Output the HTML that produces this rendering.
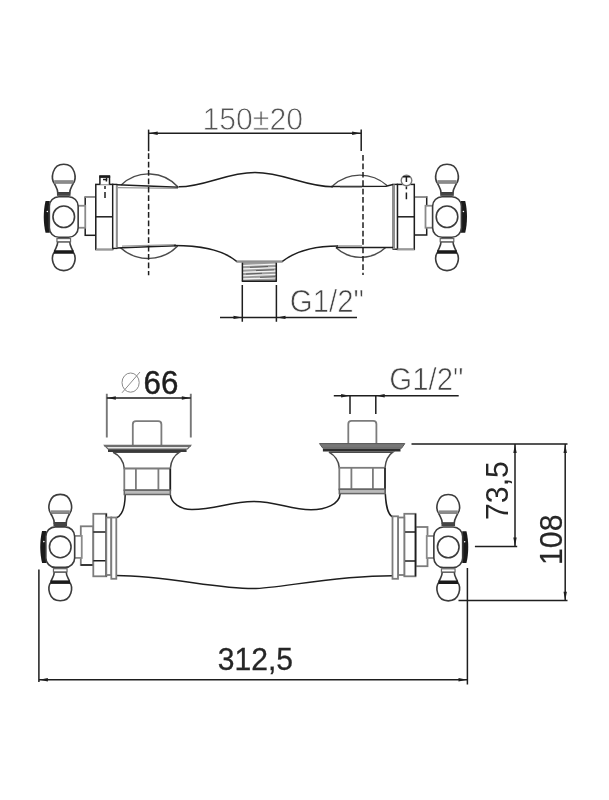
<!DOCTYPE html>
<html>
<head>
<meta charset="utf-8">
<title>Technical drawing</title>
<style>
html,body{margin:0;padding:0;background:#fff;}
body{width:609px;height:800px;overflow:hidden;font-family:"Liberation Sans",sans-serif;}
svg{display:block;filter:blur(0.35px);}
text{font-family:"Liberation Sans",sans-serif;}
.d{stroke:#1e1e1e;stroke-width:1.5;fill:none;}
.g{stroke:#7c7c7c;stroke-width:1.8;fill:none;}
.m{stroke:#3c3c3c;stroke-width:1.6;fill:none;}
.a{stroke:#4a4a4a;stroke-width:1.4;fill:none;}
.w{fill:#fff;}
.k{fill:#1a1a1a;stroke:none;}
</style>
</head>
<body>
<svg width="609" height="800" viewBox="0 0 609 800">
<defs>
  <!-- handle, centre at 0,0 ; cap on -x side, stem on +x side -->
  <g id="handle">
    <!-- top knob -->
    <path class="m w" d="M-9.2 -33 C-13.2 -38 -11.9 -52.5 0 -52.5 C11.9 -52.5 13.2 -38 9.2 -33 Z"/>
    <rect x="-9.6" y="-36.6" width="19.2" height="3.6" fill="#8a8a8a"/>
    <path class="m w" d="M-9.2 -33 C-8 -30 -6 -28 -6 -24 L6 -24 C6 -28 8 -30 9.2 -33"/>
    <rect x="-6.8" y="-24.3" width="13.6" height="3.4" fill="#444"/>
    <!-- bottom knob -->
    <path class="m w" d="M-9.2 35 C-13.2 40 -11.9 53.9 0 53.9 C11.9 53.9 13.2 40 9.2 35 Z"/>
    <path class="m w" d="M-9.2 34.5 C-8 31 -6 29 -6 25 L6 25 C6 29 8 31 9.2 34.5"/>
    <rect class="k" x="-9.8" y="33.5" width="19.6" height="3.5"/>
    <rect x="-6.8" y="21.8" width="13.6" height="3.2" fill="#fff" stroke="#666" stroke-width="1.2"/>
    <!-- stem -->
    <rect x="14" y="-11" width="7.5" height="22" fill="#fff" stroke="#8a8a8a" stroke-width="1.8"/>
    <!-- cap -->
    <path class="k" d="M-14 -15.8 L-18.2 -15.8 C-20.6 -6 -20.6 6 -18.2 16 L-14 16 Z"/>
    <circle cx="-16.4" cy="-5.3" r="0.8" fill="#fff"/>
    <!-- hub -->
    <rect class="m w" x="-14.4" y="-20" width="28.8" height="40.5" rx="9.5" ry="9.5"/>
    <circle class="m" cx="0" cy="0" r="10.8"/>
  </g>
  <path id="ah" d="M0 0 L8.5 -1.7 L8.5 1.7 Z" fill="#1e1e1e"/>
</defs>

<!-- ================= TOP VIEW ================= -->
<g id="topview">
  <!-- wall flange arcs -->
  <path class="a" d="M121.2 185 A39.6 39.6 0 0 1 178.3 187.2"/>
  <path class="a" d="M120.5 247.8 A41.3 41.3 0 0 0 177.7 246"/>
  <path class="a" d="M332.5 186 A40.2 40.2 0 0 1 387 185.6"/>
  <path class="a" d="M335.8 247.6 A36.8 36.8 0 0 0 385.7 247.6"/>
  <!-- body flat parts -->
  <path class="d" stroke-width="1.2" d="M117 184.8 L178.5 187.3 M117 248 L148 246.7 L176 245.7 M331 186.4 L386 186.3 L393 184.6 M336 247.5 H393"/>
  <path stroke="#9a9a9a" stroke-width="1.3" fill="none" d="M118 187.6 L178 188.4 M122 246.2 L176 244.6 M340 187.4 H362 M337 246 H362"/>
  <!-- body curves -->
  <path class="d" d="M179 186.8 C205 186.8 226 172.5 255 172.5 C284 172.5 305 186.8 333 186.8"/>
  <path class="d" d="M174 245.6 C207 245.6 225 251.5 237 261.6 L282 261.6 C297 250 315 246 338 246"/>
  <!-- thread -->
  <g>
    <rect x="242" y="262" width="34.6" height="19.6" fill="#9c9c9c"/>
    <path stroke="#f4f4f4" stroke-width="1.3" fill="none" d="M242 265.6 L276.6 264.2 M242 269 L276.6 267.6 M242 272.4 L276.6 271 M242 275.8 L276.6 274.4 M242 279 L276.6 277.8"/>
    <path stroke="#444" stroke-width="0.7" fill="none" d="M250 267.3 L268 266.5 M246 274 L262 273.3 M256 270.6 L274 269.8 M260 277.4 L275 276.8"/>
    <path class="d" d="M242.4 262.5 V281.3 M276.3 262.5 V281.3"/>
    <path class="d" stroke-width="2" d="M241.8 281.2 H276.9"/>
    <path stroke="#909090" stroke-width="1.8" fill="none" d="M236.5 261.6 H282.5"/>
  </g>
  <!-- left fittings -->
  <rect class="d w" x="85.2" y="197.1" width="10.6" height="38.2"/>
  <path stroke="#999" stroke-width="1.7" fill="none" d="M85.2 197.1 H95.8"/>
  <rect class="d w" x="95.8" y="184.4" width="16.9" height="65.1"/>
  <path class="d" d="M95.8 216.8 H112.7"/>
  <rect x="112.7" y="184.4" width="4" height="64" fill="#fff" stroke="#1e1e1e" stroke-width="1.4"/>
  <path stroke="#8f8f8f" stroke-width="1.6" fill="none" d="M116.6 185.2 V248"/>
  <path stroke="#999" stroke-width="1.6" fill="none" d="M95.8 249.5 H112.7"/>
  <path d="M99.9 184.6 V177 H109.5 V184.6" fill="#fff" stroke="#1e1e1e" stroke-width="1.5"/>
  <rect class="k" x="99.2" y="175.2" width="11" height="2.4"/>
  <path class="d" d="M103 179.4 H106.6 V177.6 M106.4 179 V181.5" stroke-width="1" stroke="#444"/>
  <path class="d" d="M105 186 V189 M105 192 V198" stroke-width="1.5"/>
  <use href="#handle" transform="translate(63.75 216.75)"/>
  <!-- right fittings -->
  <rect class="d w" x="414.3" y="196.9" width="12.4" height="38.1"/>
  <path stroke="#999" stroke-width="1.7" fill="none" d="M414.3 196.9 H426.7"/>
  <rect class="d w" x="397.4" y="184.4" width="16.9" height="65"/>
  <path class="d" d="M397.4 216.8 H414.3"/>
  <rect x="393.2" y="184.4" width="4.2" height="64.8" fill="#fff" stroke="#1e1e1e" stroke-width="1.4"/>
  <path stroke="#8f8f8f" stroke-width="2" fill="none" d="M394 184.4 V249.2"/>
  <path stroke="#999" stroke-width="1.6" fill="none" d="M397.4 249.4 H414.3"/>
  <circle cx="406.5" cy="180.5" r="5.3" fill="#fff" stroke="#777" stroke-width="1.4"/>
  <path class="d" d="M403 176.8 H410 M406.4 176.8 V182" stroke-width="1.5"/>
  <path class="d" d="M406.4 186.4 V189.3 M406.4 192.6 V199.3" stroke-width="1.5"/>
  <use href="#handle" transform="translate(447 216.75) scale(-1 1)"/>

  <!-- centre lines -->
  <path class="d" d="M148.6 129.6 V151.2" stroke-width="1.5"/>
  <path class="d" d="M148.6 153.3 V275.2" stroke-dasharray="5.7 2.7" stroke-width="1.7"/>
  <path class="d" d="M361.2 129.5 V151" stroke-width="1.5"/>
  <path class="d" d="M363 155.1 V275" stroke-dasharray="5.7 2.7" stroke-width="1.7"/>
  <!-- 150±20 dimension -->
  <path class="d" d="M148.6 133.2 H361.2"/>
  <use href="#ah" transform="translate(149.2 133.2)"/>
  <use href="#ah" transform="translate(360.6 133.2) scale(-1 1)"/>
  <text transform="translate(202.4 129.8) scale(0.945 1)" font-size="32" fill="#555" stroke="#fff" stroke-width="0.8">150±20</text>
  <!-- G1/2 dimension -->
  <path class="d" d="M242.3 285 V321.8 M276.4 285 V321.8 M220 317.6 H357"/>
  <use href="#ah" transform="translate(242 317.4) scale(-1 1)"/>
  <use href="#ah" transform="translate(277 317.4)"/>
  <text transform="translate(289.8 311.9) scale(0.955 1)" font-size="30.8" fill="#444" stroke="#fff" stroke-width="0.7">G1/2"</text>
</g>

<!-- ================= FRONT VIEW ================= -->
<g id="frontview">
  <!-- body outline -->
  <path class="d" d="M125.2 494.5 C125 508 122 515.5 116.5 517.8"/>
  <path class="d" d="M170.3 494.5 C171 503 180 509.5 192 509.5 C216 509.5 230 501.4 253.6 501.4 C277 501.4 290 509.8 311 509.8 C326 509.8 339.5 504 340.2 493.6"/>
  <path class="d" d="M385.3 493.6 C386 506 387.5 514.5 392.8 517"/>
  <path class="d" d="M116.3 575.6 C165 575.6 215 588.6 253 588.6 C280 588.6 330 575.7 392.5 575.7"/>

  <!-- left inlet -->
  <path class="g w" d="M132.8 445.3 V424.4 Q132.8 421.2 136 421.2 H158.2 Q161.4 421.2 161.4 424.4 V445.3"/>
  <path d="M113.1 452.2 C120 455.5 123.5 460 124.3 468.6 H170.3 C171 460 174 455.5 179.5 452.2 Z" fill="#fff" stroke="#4a4a4a" stroke-width="1.5"/>
  <path d="M104.5 445.3 H190.7 L187.5 449 H108 Z" fill="#e6e6e6" stroke="#666" stroke-width="1.2"/>
  <path stroke="#6e6e6e" stroke-width="2.2" d="M104.5 446 H190.7" fill="none"/>
  <path stroke="#3a3a3a" stroke-width="2.6" d="M108 450.6 H186.6" fill="none"/>
  <rect class="g w" x="124.3" y="468.6" width="46" height="21.6"/>
  <path class="g" d="M135.9 468.6 V490.2 M158.4 468.6 V490.2"/>
  <path class="d" d="M170.3 468.6 V494.5"/>
  <rect x="124.3" y="490.2" width="46" height="4.3" fill="#bbb" stroke="#666" stroke-width="1.5"/>

  <!-- right inlet -->
  <path class="g w" d="M348.3 443.6 V424 Q348.3 420.8 351.5 420.8 H373.2 Q376.4 420.8 376.4 424 V443.6"/>
  <path d="M329 452.2 C335 455.5 338.5 460 339.3 467.8 H385 C385.7 460 388 455.5 392.8 452.2 Z" fill="#fff" stroke="#4a4a4a" stroke-width="1.5"/>
  <path d="M319.5 443.6 H404.8 L401.5 448.3 H322.9 Z" fill="#777" stroke="#555" stroke-width="1"/>
  <path stroke="#2e2e2e" stroke-width="2.6" d="M322.9 450.2 H400.5" fill="none"/>
  <rect class="g w" x="339.3" y="467.8" width="45.7" height="21.5"/>
  <path class="g" d="M351.4 467.8 V489.3 M372.9 467.8 V489.3"/>
  <path class="d" d="M385 467.8 V493.6"/>
  <rect x="339.3" y="489.3" width="45.7" height="4.3" fill="#bbb" stroke="#666" stroke-width="1.5"/>

  <!-- left fittings -->
  <rect class="g w" x="80.8" y="526.3" width="12.5" height="38.7"/>
  <path class="d" d="M80.8 565 H93.3"/>
  <rect class="g w" x="93.3" y="513.8" width="13" height="62.5"/>
  <path class="d" d="M93.3 532 H106.3 M93.3 560.8 H106.3 M106.3 513.8 V576.3"/>
  <rect class="g w" x="106.3" y="517.5" width="5" height="57.5" stroke-width="1.4"/>
  <rect class="g w" x="111.3" y="517.5" width="5" height="61.3" stroke-width="1.4"/>
  <use href="#handle" transform="translate(60.25 546.9)"/>

  <!-- right fittings -->
  <rect class="g w" x="415.5" y="527" width="12" height="39.2"/>
  
  <rect class="g w" x="404.3" y="513.8" width="11.2" height="62.5"/>
  <path class="d" d="M404.3 532 H415.5 M404.3 561 H415.5 M415.5 513.8 V576.3"/>
  <rect class="g w" x="398" y="517.5" width="6.3" height="57.5" stroke-width="1.4"/>
  <rect class="g w" x="392.5" y="516.3" width="5.5" height="62.5" stroke-width="1.4"/>
  <use href="#handle" transform="translate(448.25 547) scale(-1 1)"/>

  <!-- Ø66 -->
  <path stroke="#777" stroke-width="1.9" fill="none" d="M106.8 393.8 V437.5 M190.8 393.8 V437.5"/>
  <path class="d" d="M106.8 398 H190.8"/>
  <use href="#ah" transform="translate(107.3 398)"/>
  <use href="#ah" transform="translate(190.3 398) scale(-1 1)"/>
  <ellipse cx="130.6" cy="382.6" rx="8.6" ry="9.6" fill="none" stroke="#8a8a8a" stroke-width="1"/>
  <path d="M122 392.8 L140 372" stroke="#8a8a8a" stroke-width="1" fill="none"/>
  <text transform="translate(143.6 394.1) scale(0.95 1)" font-size="33" fill="#1e1e1e" stroke="#1e1e1e" stroke-width="0.45">66</text>

  <!-- G1/2 -->
  <path class="d" d="M350 395.8 V414 M375.8 395.8 V414 M333.8 395.8 H458.7"/>
  <use href="#ah" transform="translate(349.6 395.8) scale(-1 1)"/>
  <use href="#ah" transform="translate(376.2 395.8)"/>
  <text transform="translate(389.3 390.4) scale(0.955 1)" font-size="30.8" fill="#444" stroke="#fff" stroke-width="0.7">G1/2"</text>

  <!-- 73,5 and 108 -->
  <path class="d" d="M411.5 444 H567.5 M515 444 V546.4 M474.9 546.4 H517.2 M565.2 444 V600.6 M458.5 600.6 H567.5"/>
  <use href="#ah" transform="translate(515 444.4) rotate(90)"/>
  <use href="#ah" transform="translate(515 546) rotate(-90)"/>
  <use href="#ah" transform="translate(565.2 444.4) rotate(90)"/>
  <use href="#ah" transform="translate(565.2 600.2) rotate(-90)"/>
  <text transform="translate(508.4 520) rotate(-90) scale(0.945 1)" font-size="32" fill="#262626" stroke="none" stroke-width="0">73,5</text>
  <text transform="translate(562 565) rotate(-90) scale(0.945 1)" font-size="32" fill="#262626" stroke="#262626" stroke-width="0.2">108</text>

  <!-- 312,5 -->
  <path class="d" d="M38.9 569.5 V682 M467.4 568 V684.4 M38.9 679.8 H467.4" stroke-width="1.4"/>
  <use href="#ah" transform="translate(39.4 679.8)"/>
  <use href="#ah" transform="translate(467 679.8) scale(-1 1)"/>
  <text transform="translate(217.8 669.5) scale(0.955 1)" font-size="31.5" fill="#262626" stroke="#262626" stroke-width="0.3">312,5</text>
</g>
</svg>
</body>
</html>
